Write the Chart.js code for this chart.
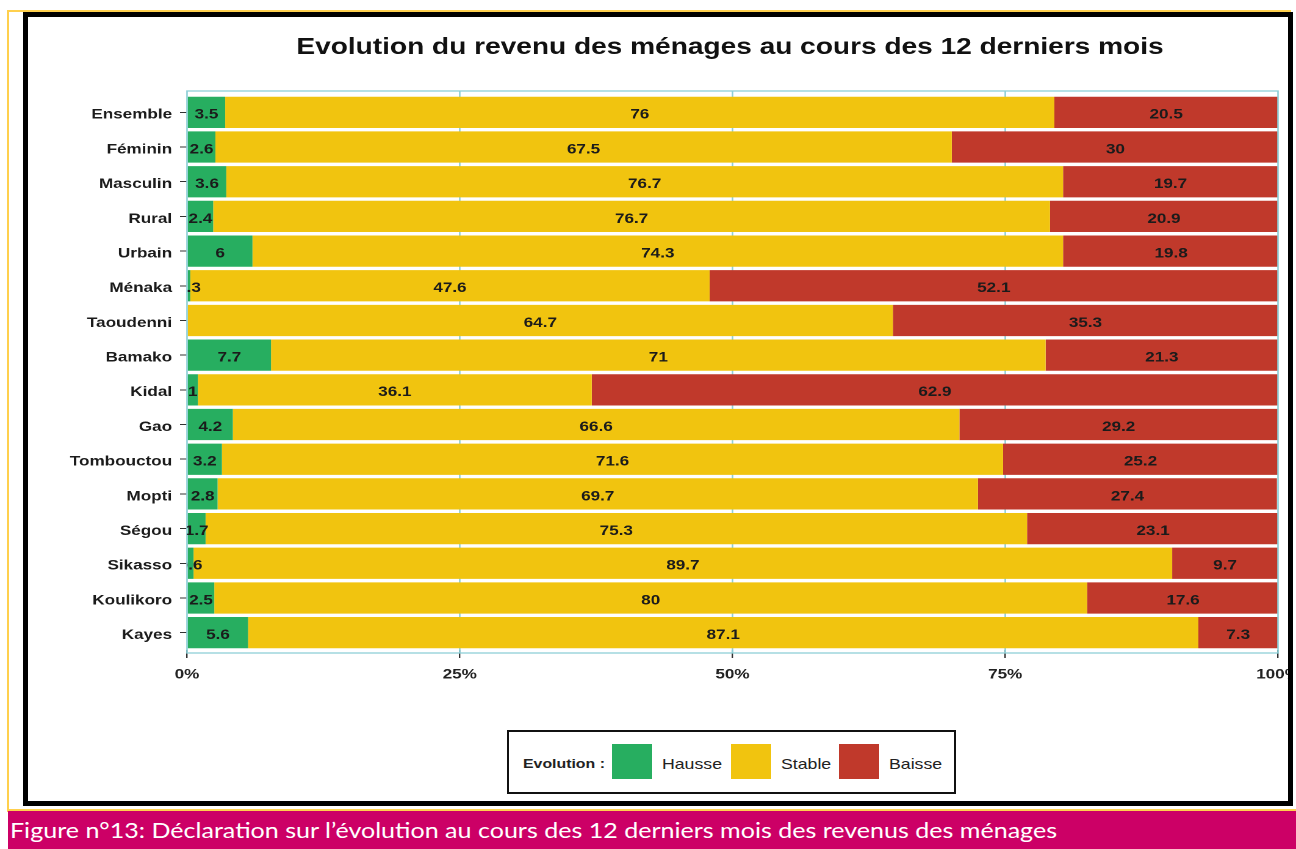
<!DOCTYPE html>
<html>
<head>
<meta charset="utf-8">
<script src="https://cdn.jsdelivr.net/npm/chart.js@4.4.1/dist/chart.umd.min.js"></script>
<style>
html,body{margin:0;padding:0;width:1296px;height:849px;overflow:hidden;background:#fff;}
#ytop{position:absolute;left:7px;top:10px;width:1284px;height:2px;background:#FFD04D;}
#yleft{position:absolute;left:7px;top:10px;width:2px;height:802px;background:#FFD04D;}
#frame{position:absolute;left:23px;top:12px;width:1270px;height:794px;box-sizing:border-box;border:5px solid #000;overflow:hidden;background:#fff;}
#c{position:absolute;left:-28px;top:-17px;}
#legend{position:absolute;left:507px;top:730px;width:449px;height:64px;box-sizing:border-box;border:2.5px solid #111;background:#fff;font-family:'Liberation Sans',Arial,sans-serif;color:#222;}
#legend .t{position:absolute;height:20px;line-height:20px;top:21.5px;white-space:nowrap;transform:scaleX(1.22);transform-origin:0 50%;}
#legend .sw{position:absolute;top:11.5px;width:40px;height:35px;}
#capline{position:absolute;left:8px;top:809px;width:1288px;height:2px;background:#FFD04D;}
#cap{position:absolute;left:8px;top:811px;width:1288px;height:38px;background:#CC0066;overflow:hidden;}
#capText{position:absolute;left:2px;top:0;height:38px;line-height:38px;white-space:nowrap;color:#fff;font-family:Lato,'Open Sans',sans-serif;font-size:22px;transform-origin:0 50%;}
</style>
</head>
<body>
<div id="ytop"></div>
<div id="yleft"></div>
<div id="frame"><canvas id="c" width="1062" height="849" style="width:1296px;height:849px;"></canvas></div>
<div id="legend"></div>
<div id="capline"></div>
<div id="cap"><span id="capText">Figure n°13: Déclaration sur l’évolution au cours des 12 derniers mois des revenus des ménages</span></div>
<script>
// ---- Data ----
const categories = ['Ensemble','Féminin','Masculin','Rural','Urbain','Ménaka','Taoudenni','Bamako','Kidal','Gao','Tombouctou','Mopti','Ségou','Sikasso','Koulikoro','Kayes'];
const hausse = [3.5, 2.6, 3.6, 2.4, 6, 0.3, null, 7.7, 1, 4.2, 3.2, 2.8, 1.7, 0.6, 2.5, 5.6];
const stable = [76, 67.5, 76.7, 76.7, 74.3, 47.6, 64.7, 71, 36.1, 66.6, 71.6, 69.7, 75.3, 89.7, 80, 87.1];
const baisse = [20.5, 30, 19.7, 20.9, 19.8, 52.1, 35.3, 21.3, 62.9, 29.2, 25.2, 27.4, 23.1, 9.7, 17.6, 7.3];
const seriesNames = ['Hausse', 'Stable', 'Baisse'];
const seriesColors = ['#27AE60', '#F1C40F', '#C0392B'];
const tickValues = [0, 25, 50, 75, 100];
const tickLabels = ['0%', '25%', '50%', '75%', '100%'];
const titleText = 'Evolution du revenu des ménages au cours des 12 derniers mois';
const legendTitle = 'Evolution :';

// ---- Layout helpers (canvas is drawn 1062 wide and stretched to 1296) ----
const S = 1296 / 1062;
const px = v => v / S;
const FONT = "'Liberation Sans', Arial, sans-serif";
const TEAL = '#8ecfd6';
const PANEL_TOP = 91, PANEL_BOTTOM = 653;
const AREA_LEFT = px(187), AREA_RIGHT = px(1278), AREA_TOP = 95, AREA_BOTTOM = 650;

const panelPlugin = {
  id: 'panel',
  beforeDatasetsDraw(chart) {
    const {ctx, scales: {x}} = chart;
    ctx.save();
    ctx.strokeStyle = TEAL;
    ctx.lineWidth = 1.3;
    tickValues.slice(1, -1).forEach(v => {
      const X = x.getPixelForValue(v);
      ctx.beginPath();
      ctx.moveTo(X, PANEL_TOP);
      ctx.lineTo(X, PANEL_BOTTOM);
      ctx.stroke();
    });
    ctx.restore();
  },
  afterDatasetsDraw(chart) {
    const {ctx, scales: {x}} = chart;
    const l = x.getPixelForValue(0), r = x.getPixelForValue(100);
    ctx.save();
    ctx.strokeStyle = TEAL;
    ctx.lineWidth = 1.3;
    ctx.strokeRect(l, PANEL_TOP, r - l, PANEL_BOTTOM - PANEL_TOP);
    ctx.beginPath();
    ctx.rect(l, PANEL_TOP, r - l, PANEL_BOTTOM - PANEL_TOP);
    ctx.clip();
    ctx.font = 'bold 14px ' + FONT;
    ctx.fillStyle = '#1b1b1b';
    ctx.textAlign = 'center';
    ctx.textBaseline = 'middle';
    chart.data.datasets.forEach((ds, di) => {
      const meta = chart.getDatasetMeta(di);
      meta.data.forEach((el, i) => {
        const v = ds.data[i];
        if (v === null || v === undefined) return;
        const p = el.getProps(['x', 'base', 'y'], true);
        ctx.fillText(String(v), (p.x + p.base) / 2, p.y + 2.5);
      });
    });
    ctx.restore();
  },
  afterDraw(chart) {
    const {ctx} = chart;
    ctx.save();
    ctx.font = 'bold 23px ' + FONT;
    ctx.fillStyle = '#111';
    ctx.textAlign = 'center';
    ctx.textBaseline = 'alphabetic';
    ctx.fillText(titleText, px(730), 54);
    ctx.restore();
  }
};

const data = {
  labels: categories,
  datasets: [hausse, stable, baisse].map((d, i) => ({
    label: seriesNames[i],
    data: d,
    backgroundColor: seriesColors[i],
    borderWidth: 0,
    barPercentage: 0.9,
    categoryPercentage: 1
  }))
};

new Chart(document.getElementById('c'), {
  type: 'bar',
  data,
  plugins: [panelPlugin],
  options: {
    indexAxis: 'y',
    responsive: false,
    animation: false,
    devicePixelRatio: 2,
    layout: {padding: {left: 0, top: AREA_TOP, right: 1062 - AREA_RIGHT, bottom: 0}},
    plugins: {legend: {display: false}, title: {display: false}, tooltip: {enabled: false}},
    scales: {
      y: {
        type: 'category',
        stacked: true,
        offset: true,
        border: {display: false},
        grid: {display: true, offset: false, drawOnChartArea: false, drawTicks: true, tickLength: px(7), color: '#333', lineWidth: 1},
        ticks: {font: {family: FONT, size: 14, weight: 'bold'}, color: '#1b1b1b', padding: 6.5, labelOffset: 2.5},
        afterFit(scale) { scale.width = AREA_LEFT; scale.paddingTop = 0; scale.paddingBottom = 0; }
      },
      x: {
        type: 'linear',
        stacked: true,
        min: 0,
        max: 100,
        border: {display: false},
        grid: {display: true, drawOnChartArea: false, drawTicks: true, tickLength: 8, color: '#333', lineWidth: 1.2},
        afterBuildTicks(scale) { scale.ticks = tickValues.map(v => ({value: v})); },
        ticks: {
          font: {family: FONT, size: 14, weight: 'bold'},
          color: '#222',
          padding: 8,
          maxRotation: 0,
          autoSkip: false,
          callback: (v) => tickLabels[tickValues.indexOf(v)]
        },
        afterFit(scale) { scale.height = 849 - AREA_BOTTOM; scale.paddingLeft = 0; scale.paddingRight = 0; }
      }
    }
  }
});

// ---- Legend (HTML) ----
const legend = document.getElementById('legend');
const L0 = 509.5;
function addText(txt, x, bold, size) {
  const d = document.createElement('div');
  d.className = 't';
  d.textContent = txt;
  d.style.left = (x - L0) + 'px';
  d.style.fontWeight = bold ? 'bold' : 'normal';
  d.style.fontSize = size + 'px';
  legend.appendChild(d);
}
addText(legendTitle, 523, true, 13);
const swX = [612, 731, 839];
const txX = [662, 781, 889];
seriesNames.forEach((n, i) => {
  const s = document.createElement('div');
  s.className = 'sw';
  s.style.left = (swX[i] - L0) + 'px';
  s.style.background = seriesColors[i];
  legend.appendChild(s);
  addText(n, txX[i], false, 14.5);
});

// ---- Caption fit ----
function fitCap() {
  const cap = document.getElementById('capText');
  cap.style.transform = 'none';
  const w = cap.getBoundingClientRect().width;
  cap.style.transform = 'scaleX(' + (1047 / w) + ')';
}
fitCap();
if (document.fonts && document.fonts.ready) document.fonts.ready.then(fitCap);
</script>
</body>
</html>
